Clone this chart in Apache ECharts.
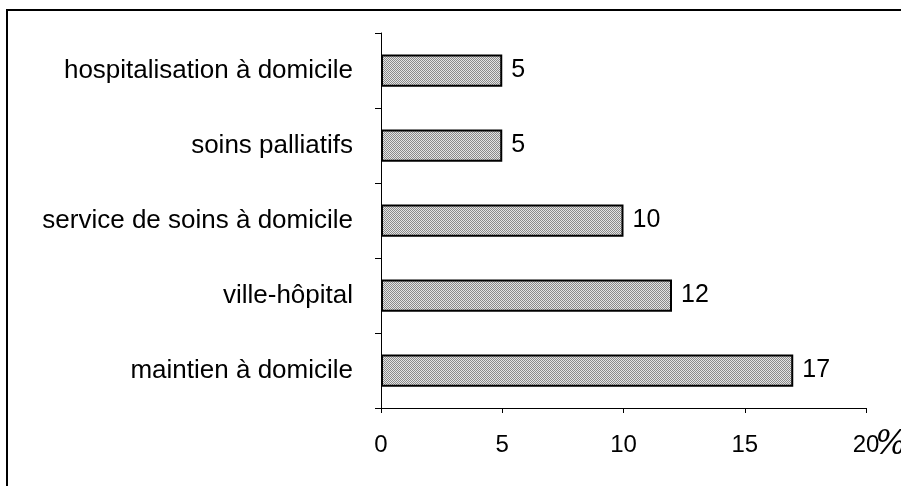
<!DOCTYPE html>
<html>
<head>
<meta charset="utf-8">
<script src="https://cdn.jsdelivr.net/npm/echarts@6/dist/echarts.min.js"></script>
<style>
  html, body { margin: 0; padding: 0; background: #fff; }
  #chart { width: 901px; height: 486px; }
</style>
</head>
<body>
<div id="chart"></div>
<script>
// Categories from top to bottom, with their percentages
const categories = [
  'hospitalisation à domicile',
  'soins palliatifs',
  'service de soins à domicile',
  'ville-hôpital',
  'maintien à domicile'
];
const values = [5, 5, 10, 12, 17];
const xTicks = [0, 5, 10, 15, 20];

// Fine dithered grey used as the bar fill
function ditherPattern() {
  const c = document.createElement('canvas');
  c.width = 2; c.height = 2;
  const ctx = c.getContext('2d');
  ctx.fillStyle = '#e4e4e4';
  ctx.fillRect(0, 0, 2, 2);
  ctx.fillStyle = '#8a8a8a';
  ctx.fillRect(0, 0, 1, 1);
  ctx.fillRect(1, 1, 1, 1);
  return c;
}

const chart = echarts.init(document.getElementById('chart'), null, { renderer: 'canvas' });
const font = 'Liberation Sans';

const frame = {
  type: 'rect',
  shape: { x: 7, y: 10, width: 1000, height: 1000 },
  style: { fill: 'none', stroke: '#000', lineWidth: 2 },
  silent: true
};

chart.setOption({
  animation: false,
  backgroundColor: '#fff',
  grid: { left: 381, right: 35, top: 33, bottom: 78, containLabel: false },
  xAxis: {
    type: 'value',
    min: xTicks[0],
    max: xTicks[xTicks.length - 1],
    interval: xTicks[1] - xTicks[0],
    axisLine: { show: true, lineStyle: { color: '#000', width: 1 } },
    axisTick: { show: true, length: 5, lineStyle: { color: '#000' } },
    splitLine: { show: false },
    axisLabel: { color: '#000', fontSize: 24, fontFamily: font, margin: 25 }
  },
  yAxis: {
    type: 'category',
    inverse: true,
    data: categories,
    axisLine: { show: true, lineStyle: { color: '#000', width: 1 } },
    axisTick: { show: true, length: 6, lineStyle: { color: '#000' } },
    splitLine: { show: false },
    axisLabel: { color: '#000', fontSize: 26, fontFamily: font, margin: 28 }
  },
  series: [{
    type: 'bar',
    data: values,
    barWidth: '43%',
    itemStyle: {
      color: { image: ditherPattern(), repeat: 'repeat' },
      borderColor: '#000',
      borderWidth: 2
    },
    label: {
      show: true,
      position: 'right',
      distance: 9,
      color: '#000',
      fontSize: 25,
      fontFamily: font
    }
  }],
  graphic: [frame]
});

// Hand-written percent sign after the last axis label
const p = chart.convertToPixel({ gridIndex: 0 }, [xTicks[xTicks.length - 1], 0]);
chart.setOption({
  graphic: [frame, {
    type: 'text',
    x: p[0] + 25,
    y: 445,
    style: {
      text: '%',
      fontSize: 33,
      fontStyle: 'italic',
      fontFamily: 'DejaVu Serif',
      fill: '#000',
      textAlign: 'center',
      textVerticalAlign: 'middle'
    },
    silent: true
  }]
});
</script>
</body>
</html>
